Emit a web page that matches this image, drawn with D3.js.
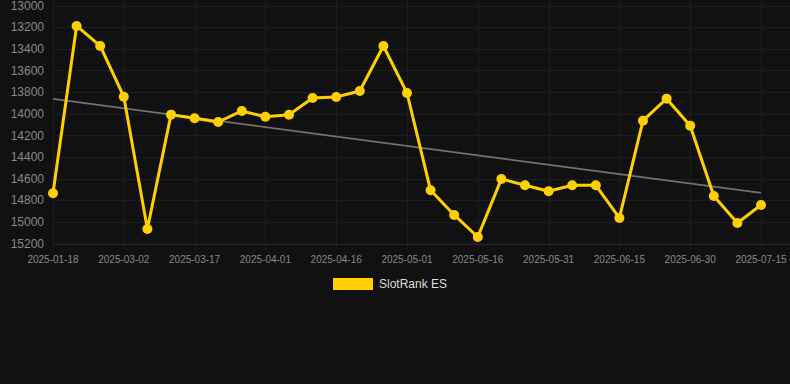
<!DOCTYPE html>
<html>
<head>
<meta charset="utf-8">
<script src="https://cdn.jsdelivr.net/npm/d3@7"></script>
<style>
  html, body { margin: 0; padding: 0; background: #111111; }
  svg { display: block; font-family: "Liberation Sans", Arial, sans-serif; }
</style>
</head>
<body>
<div id="chart"></div>
<script>
const dates = [
  "2025-01-18", "2025-02-20", "2025-02-25", "2025-03-02", "2025-03-07", "2025-03-12",
  "2025-03-17", "2025-03-22", "2025-03-27", "2025-04-01", "2025-04-06", "2025-04-11",
  "2025-04-16", "2025-04-21", "2025-04-26", "2025-05-01", "2025-05-06", "2025-05-11",
  "2025-05-16", "2025-05-21", "2025-05-26", "2025-05-31", "2025-06-05", "2025-06-10",
  "2025-06-15", "2025-06-20", "2025-06-25", "2025-06-30", "2025-07-05", "2025-07-10",
  "2025-07-15"
];
const ranks = [
  14736, 13189, 13374, 13843, 15066, 14009,
  14043, 14077, 13975, 14028, 14010, 13855,
  13846, 13790, 13374, 13809, 14708, 14936,
  15140, 14603, 14662, 14717, 14662, 14662,
  14964, 14065, 13861, 14111, 14761, 15010,
  14844
];
const trend = [13864, 14733]; // start / end of the trend line
const yTicks = [13000, 13200, 13400, 13600, 13800, 14000, 14200, 14400, 14600, 14800, 15000, 15200];
const seriesName = "SlotRank ES";

const width = 790, height = 384;
const plot = { left: 53, right: 761, top: 5.5, bottom: 243.5 };

const svg = d3.select("#chart").append("svg")
  .attr("width", width)
  .attr("height", height);

svg.append("rect").attr("width", width).attr("height", height).attr("fill", "#111111");

const x = d3.scalePoint().domain(dates).range([plot.left, plot.right]);
const y = d3.scaleLinear().domain([13000, 15200]).range([plot.top, plot.bottom]);

// every third date gets a label
const shownDates = dates.filter((d, i) => i % 3 === 0);

// horizontal grid
svg.append("g")
  .selectAll("line")
  .data(yTicks)
  .join("line")
  .attr("x1", plot.left)
  .attr("x2", width)
  .attr("y1", d => Math.round(y(d)) + 0.5)
  .attr("y2", d => Math.round(y(d)) + 0.5)
  .attr("stroke", d => d === 15200 ? "#2a2a2a" : "#1d1d1d")
  .attr("stroke-width", 1);

// vertical grid + tick marks
svg.append("g")
  .selectAll("line")
  .data(shownDates)
  .join("line")
  .attr("x1", d => Math.round(x(d)) + 0.5)
  .attr("x2", d => Math.round(x(d)) + 0.5)
  .attr("y1", 0)
  .attr("y2", plot.bottom + 6)
  .attr("stroke", "#1d1d1d")
  .attr("stroke-width", 1);

// y axis labels
svg.append("g")
  .selectAll("text")
  .data(yTicks)
  .join("text")
  .attr("x", 44)
  .attr("y", d => y(d))
  .attr("dy", "0.35em")
  .attr("text-anchor", "end")
  .attr("fill", "#888888")
  .style("font-size", "12px")
  .text(d => d);

// x axis labels
svg.append("g")
  .selectAll("text")
  .data(shownDates)
  .join("text")
  .attr("x", d => x(d))
  .attr("y", 259)
  .attr("dy", "0.35em")
  .attr("text-anchor", "middle")
  .attr("fill", "#888888")
  .style("font-size", "10px")
  .text(d => d);

// trend line
svg.append("line")
  .attr("x1", x(dates[0]))
  .attr("x2", x(dates[dates.length - 1]))
  .attr("y1", y(trend[0]))
  .attr("y2", y(trend[1]))
  .attr("stroke", "#727272")
  .attr("stroke-width", 1.8);

// series line
const line = d3.line()
  .x((d, i) => x(dates[i]))
  .y(d => y(d));

svg.append("path")
  .datum(ranks)
  .attr("fill", "none")
  .attr("stroke", "#FFD000")
  .attr("stroke-width", 3)
  .attr("stroke-linejoin", "round")
  .attr("d", line);

svg.append("g")
  .selectAll("circle")
  .data(ranks)
  .join("circle")
  .attr("cx", (d, i) => x(dates[i]))
  .attr("cy", d => y(d))
  .attr("r", 5)
  .attr("fill", "#FFD000");

// legend
const legend = svg.append("g");
legend.append("rect")
  .attr("x", 333)
  .attr("y", 278)
  .attr("width", 40)
  .attr("height", 12)
  .attr("fill", "#FFD000");
legend.append("text")
  .attr("x", 379)
  .attr("y", 284)
  .attr("dy", "0.35em")
  .attr("fill", "#dddddd")
  .style("font-size", "12px")
  .text(seriesName);
</script>
</body>
</html>
